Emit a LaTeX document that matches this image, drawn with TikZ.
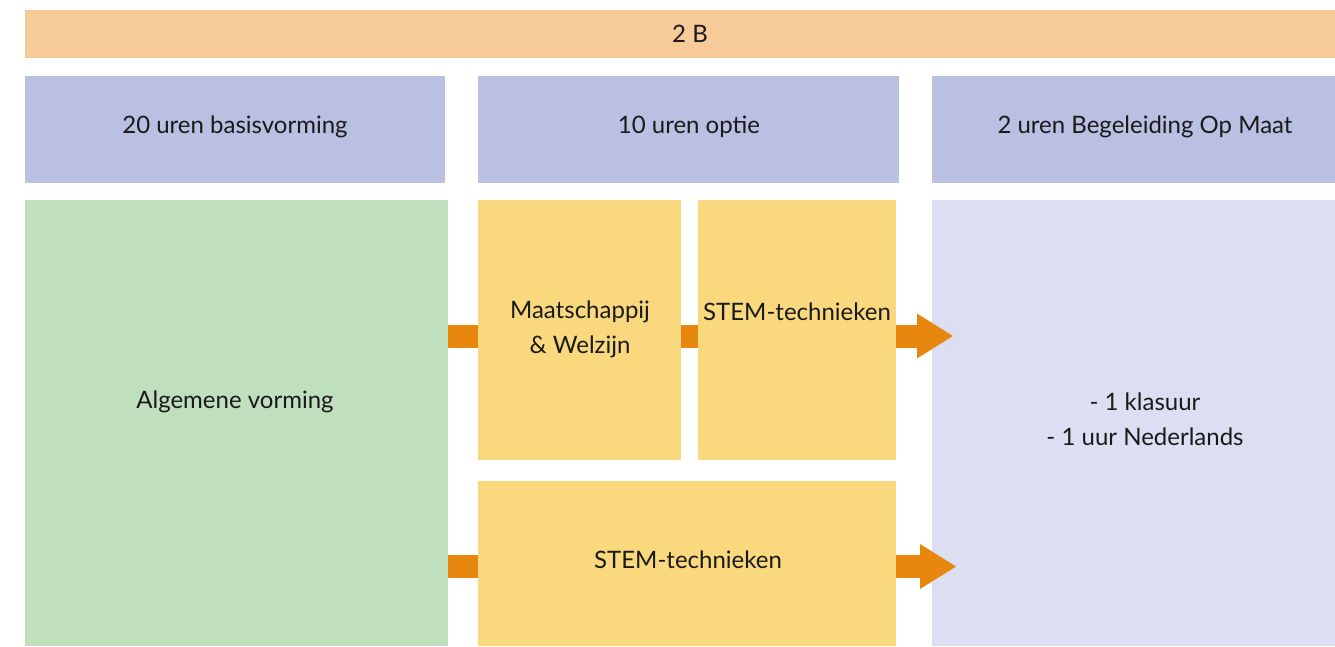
\documentclass[tikz,border=0pt]{standalone}
\usepackage{fontspec}
\setmainfont{Lato}
\usetikzlibrary{arrows.meta}

\definecolor{barorange}{RGB}{247,202,154}
\definecolor{headpurple}{RGB}{185,192,225}
\definecolor{basegreen}{RGB}{191,223,189}
\definecolor{optyellow}{RGB}{250,216,126}
\definecolor{bomlilac}{RGB}{220,223,242}
\definecolor{floworange}{RGB}{232,135,14}
\definecolor{textdark}{RGB}{26,26,26}

\begin{document}
\begin{tikzpicture}[x=1pt, y=-1pt,
    box/.style={draw=none, inner sep=0pt, anchor=north west},
    txt/.style={font=\fontsize{24}{35}\selectfont, text=textdark, align=center, inner sep=0pt},
    flow/.style={draw=floworange, line width=23pt},
    flowtip/.style={flow, -{Triangle[length=36pt, width=45pt, line width=0pt]}}]

% Page frame (same proportions as the reference)
\useasboundingbox (0,0) rectangle (1335,646);

% Top bar and column headers
\node[box, fill=barorange, minimum width=1310pt, minimum height=48pt] (bar) at (25,9.5) {};
\node[box, fill=headpurple, minimum width=420pt, minimum height=107pt] (hbasis) at (25,76) {};
\node[box, fill=headpurple, minimum width=421pt, minimum height=107pt] (hoptie) at (478,76) {};
\node[box, fill=headpurple, minimum width=403pt, minimum height=107pt] (hbom) at (932,76) {};

% Content blocks
\node[box, fill=basegreen, minimum width=423pt, minimum height=446pt] (algemeen) at (25,200) {};
\node[box, fill=optyellow, minimum width=203pt, minimum height=260pt] (maatschappij) at (478,200) {};
\node[box, fill=optyellow, minimum width=198pt, minimum height=260pt] (stemA) at (698,200) {};
\node[box, fill=optyellow, minimum width=418pt, minimum height=165pt] (stemB) at (478,481) {};
\node[box, fill=bomlilac, minimum width=403pt, minimum height=446pt] (bom) at (932,200) {};

% Texts
\node[txt] (tbar) at (690,34) {2 B};
\node[txt] (tbasis) at (235,127) {20 uren basisvorming};
\node[txt] (toptie) at (689,127) {10 uren optie};
\node[txt] (tbom) at (1145,127) {2 uren Begeleiding Op Maat};
\node[txt] (talg) at (235,402) {Algemene vorming};
\node[txt] (tmaat) at (580,329) {Maatschappij\\\& Welzijn};
\node[txt] (tstemA) at (797,312) {STEM-technieken};
\node[txt] (tstemB) at (688,560) {STEM-technieken};
\node[txt] (tklas) at (1145,419) {- 1 klasuur\\- 1 uur Nederlands};

% Flow arrows (upper and lower row)
\coordinate (rowA) at (0,336);
\coordinate (rowB) at (0,566.5);
\coordinate (endA) at (953,336);
\coordinate (endB) at (956,566.5);

\draw[flow] (algemeen.east |- rowA) -- (maatschappij.west |- rowA);
\draw[flow] (maatschappij.east |- rowA) -- (stemA.west |- rowA);
\draw[flowtip] (stemA.east |- rowA) -- (endA);

\draw[flow] (algemeen.east |- rowB) -- (stemB.west |- rowB);
\draw[flowtip] (stemB.east |- rowB) -- (endB);

\end{tikzpicture}
\end{document}
